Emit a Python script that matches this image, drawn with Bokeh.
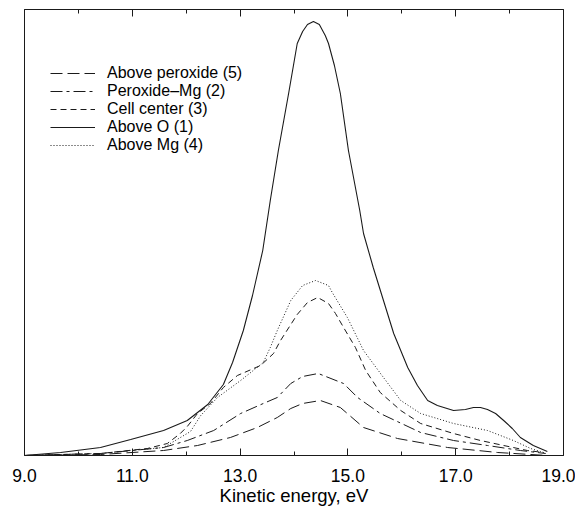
from bokeh.plotting import figure
from bokeh.models import (Range1d, FixedTicker, PrintfTickFormatter, LinearAxis, Legend, LegendItem,
                          CustomJSTickFormatter)
from bokeh.embed import file_html
from bokeh.resources import INLINE

# Kinetic energy (eV) and intensity (arbitrary units)
above_o_x = [9.00, 9.67, 10.41, 10.97, 11.58, 12.02, 12.40, 12.69, 12.86, 13.06, 13.23, 13.42, 13.56,
             13.71, 13.90, 14.06, 14.16, 14.25, 14.36, 14.47, 14.58, 14.64, 14.75, 14.86, 15.01, 15.22,
             15.29, 15.47, 15.66, 15.85, 16.11, 16.29, 16.48, 16.66, 16.96, 17.18, 17.33, 17.46, 17.59,
             17.74, 17.89, 18.05, 18.20, 18.44, 18.70]
above_o_y = [0, 3, 8, 16, 25, 35, 51, 71, 93, 125, 160, 205, 255,
             305, 362, 412, 424, 431, 434, 431, 420, 412, 390, 362, 305, 245,
             222, 188, 155, 122, 88, 70, 55, 50, 45, 46, 48, 48, 46,
             42, 35, 27, 18, 10, 4]

above_mg_x = [9.00, 10.41, 10.97, 11.58, 12.08, 12.27, 12.58, 13.01, 13.43, 13.56, 13.69, 13.94, 14.16,
              14.40, 14.64, 14.71, 14.99, 15.29, 15.66, 15.98, 16.35, 16.96, 17.59, 18.07, 18.39, 18.63]
above_mg_y = [0, 2, 5, 8, 24, 40, 58, 75, 93, 108, 125, 155, 170,
              175, 170, 163, 138, 105, 78, 55, 42, 32, 25, 15, 7, 3]

cell_x = [9.00, 10.41, 11.28, 11.65, 11.89, 12.02, 12.21, 12.45, 12.69, 12.95, 13.38, 13.62, 13.75,
          14.06, 14.25, 14.44, 14.64, 14.77, 14.92, 15.14, 15.33, 15.60, 15.98, 16.35, 16.96, 17.46,
          17.89, 18.33, 18.63]
cell_y = [0, 2, 7, 12, 22, 29, 42, 52, 68, 80, 90, 102, 115,
          141, 153, 158, 152, 142, 128, 108, 85, 63, 45, 32, 22, 15,
          10, 5, 3]

per_mg_x = [9.00, 10.41, 11.58, 12.02, 12.51, 13.01, 13.43, 13.69, 13.94, 14.16, 14.45, 14.92, 15.18,
            15.60, 16.35, 16.96, 17.59, 18.20, 18.67]
per_mg_y = [0, 2, 8, 15, 25, 42, 52, 58, 72, 79, 82, 72, 58,
            42, 23, 15, 10, 5, 2]

above_per_x = [9.00, 10.41, 11.58, 12.21, 12.82, 13.32, 13.69, 13.94, 14.16, 14.49, 14.86, 15.29, 15.92,
               16.85, 17.78, 18.70]
above_per_y = [0, 1, 5, 10, 18, 28, 38, 47, 52, 55, 48, 28, 17,
               8, 3, 0]

major_ticks = [9, 11, 13, 15, 17, 19]
minor_ticks = [10, 12, 14, 16, 18]
x_label = "Kinetic energy, eV"
labels = ["Above peroxide (5)", "Peroxide\u2013Mg (2)", "Cell center (3)", "Above O (1)", "Above Mg (4)"]

FONT = "Liberation Sans"
C = "#1a1a1a"

p = figure(frame_width=539, frame_height=446, output_backend="svg", toolbar_location=None,
           x_range=Range1d(9, 19), y_range=Range1d(0, 446), y_axis_location=None,
           min_border_left=24, min_border_right=12, min_border_top=9, min_border_bottom=0)
p.xgrid.visible = False
p.ygrid.visible = False
p.outline_line_color = C
p.outline_line_width = 1
p.background_fill_color = "white"
p.border_fill_color = "white"

ax = p.xaxis[0]
ax.ticker = FixedTicker(ticks=major_ticks, minor_ticks=minor_ticks)
ax.formatter = PrintfTickFormatter(format="%.1f")
ax.major_tick_in = 7
ax.major_tick_out = 0
ax.minor_tick_in = 4
ax.minor_tick_out = 0
ax.axis_line_color = C
ax.major_tick_line_color = C
ax.minor_tick_line_color = C
ax.major_label_text_font = FONT
ax.major_label_text_font_size = "17.5px"
ax.major_label_text_color = "black"
ax.major_label_standoff = 13
ax.axis_label = x_label
ax.axis_label_text_font = FONT
ax.axis_label_text_font_size = "18.5px"
ax.axis_label_text_font_style = "normal"
ax.axis_label_text_color = "black"
ax.axis_label_standoff = 0

top = LinearAxis(ticker=FixedTicker(ticks=major_ticks, minor_ticks=minor_ticks),
                 formatter=CustomJSTickFormatter(code="return ''"))
top.major_tick_in = 7
top.major_tick_out = 0
top.minor_tick_in = 4
top.minor_tick_out = 0
top.major_label_standoff = 0
top.axis_line_color = C
top.major_tick_line_color = C
top.minor_tick_line_color = C
p.add_layout(top, "above")

r5 = p.line(above_per_x, above_per_y, line_color=C, line_width=1, line_dash="12 5")
r2 = p.line(per_mg_x, per_mg_y, line_color=C, line_width=1, line_dash="12 4 3 4")
r3 = p.line(cell_x, cell_y, line_color=C, line_width=1, line_dash="6 4")
r1 = p.line(above_o_x, above_o_y, line_color=C, line_width=1.1)
r4 = p.line(above_mg_x, above_mg_y, line_color=C, line_width=1, line_dash="1 2")

legend = Legend(items=[LegendItem(label=lab, renderers=[r])
                       for lab, r in zip(labels, [r5, r2, r3, r1, r4])],
                location=(26, 301), glyph_width=45, glyph_height=14, label_height=14,
                spacing=0, padding=0, margin=0, label_standoff=12,
                label_text_font=FONT, label_text_font_size="16px", label_text_color="black",
                label_text_line_height=1.0,
                border_line_alpha=0, background_fill_alpha=0)
p.add_layout(legend)

open("out.html", "w").write(file_html(p, INLINE))
